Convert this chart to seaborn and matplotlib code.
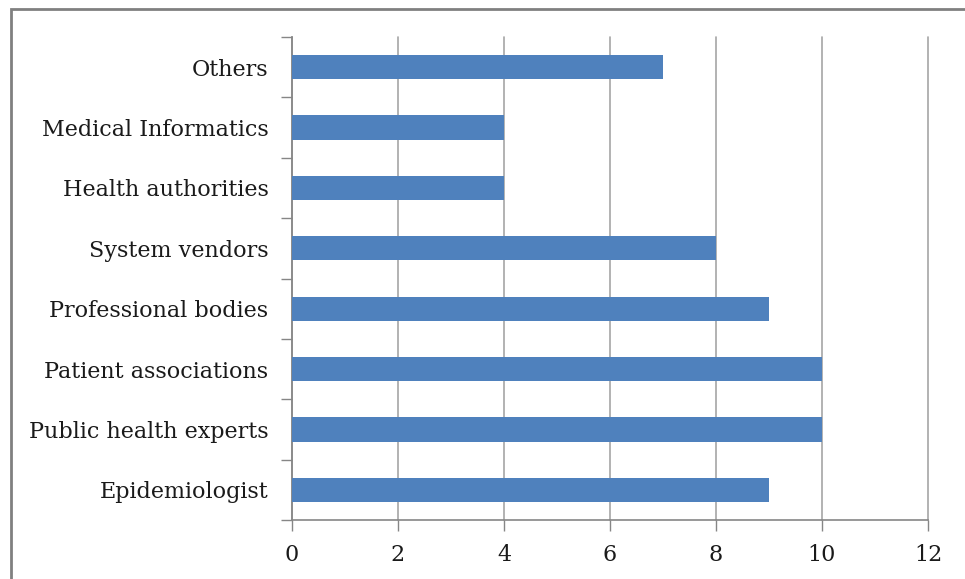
import matplotlib
matplotlib.use("Agg")
import matplotlib.pyplot as plt
import seaborn as sns
import pandas as pd
from matplotlib.patches import Rectangle

categories = ["Others", "Medical Informatics", "Health authorities", "System vendors",
              "Professional bodies", "Patient associations", "Public health experts",
              "Epidemiologist"]
values = [7, 4, 4, 8, 9, 10, 10, 9]
x_ticks = [0, 2, 4, 6, 8, 10, 12]

df = pd.DataFrame({"category": categories, "value": values})

sns.set_theme(style="white")
plt.rcParams["font.family"] = ["DejaVu Serif"]

W, H = 965, 579
fig = plt.figure(figsize=(W / 100, H / 100), dpi=100)
ax = fig.add_axes([292 / W, 1 - 520 / H, (928 - 292) / W, (520 - 37) / H])

sns.barplot(data=df, x="value", y="category", orient="h", color="#4F81BD",
            saturation=1, width=0.4, ax=ax, zorder=3, linewidth=0)

ax.set_xlim(0, 12)
ax.set_ylim(len(categories) - 0.5, -0.5)
ax.set_xticks(x_ticks)
ax.set_xticklabels([str(t) for t in x_ticks], fontsize=16, color="#1a1a1a")
ax.set_xlabel("")
ax.set_ylabel("")

# category labels at centers, tick marks at boundaries
ax.set_yticks(range(len(categories)))
ax.set_yticklabels(categories, fontsize=16, color="#1a1a1a")
ax.tick_params(axis="y", which="major", left=True, length=0, pad=17)
ax.set_yticks([i - 0.5 for i in range(len(categories) + 1)], minor=True)
ax.tick_params(axis="y", which="minor", left=True, length=8, width=1,
               color="#868686", direction="out")
ax.tick_params(axis="x", bottom=True, length=8, width=1, color="#868686",
               direction="out", pad=9)

ax.xaxis.grid(True, color="#A6A6A6", linewidth=1.2, zorder=0)
for gl in ax.get_xgridlines():
    gl.set_clip_on(False)
ax.yaxis.grid(False)
ax.set_axisbelow(True)

for side in ["top", "right"]:
    ax.spines[side].set_visible(False)
for side in ["left", "bottom"]:
    ax.spines[side].set_color("#868686")
    ax.spines[side].set_linewidth(1.2)

# outer chart border
fig.patches.append(Rectangle((11 / W, -0.05), 1.1, 1 - 9 / H + 0.05,
                             transform=fig.transFigure, fill=False,
                             edgecolor="#808080", linewidth=2))

fig.savefig("out.png", dpi=100)
